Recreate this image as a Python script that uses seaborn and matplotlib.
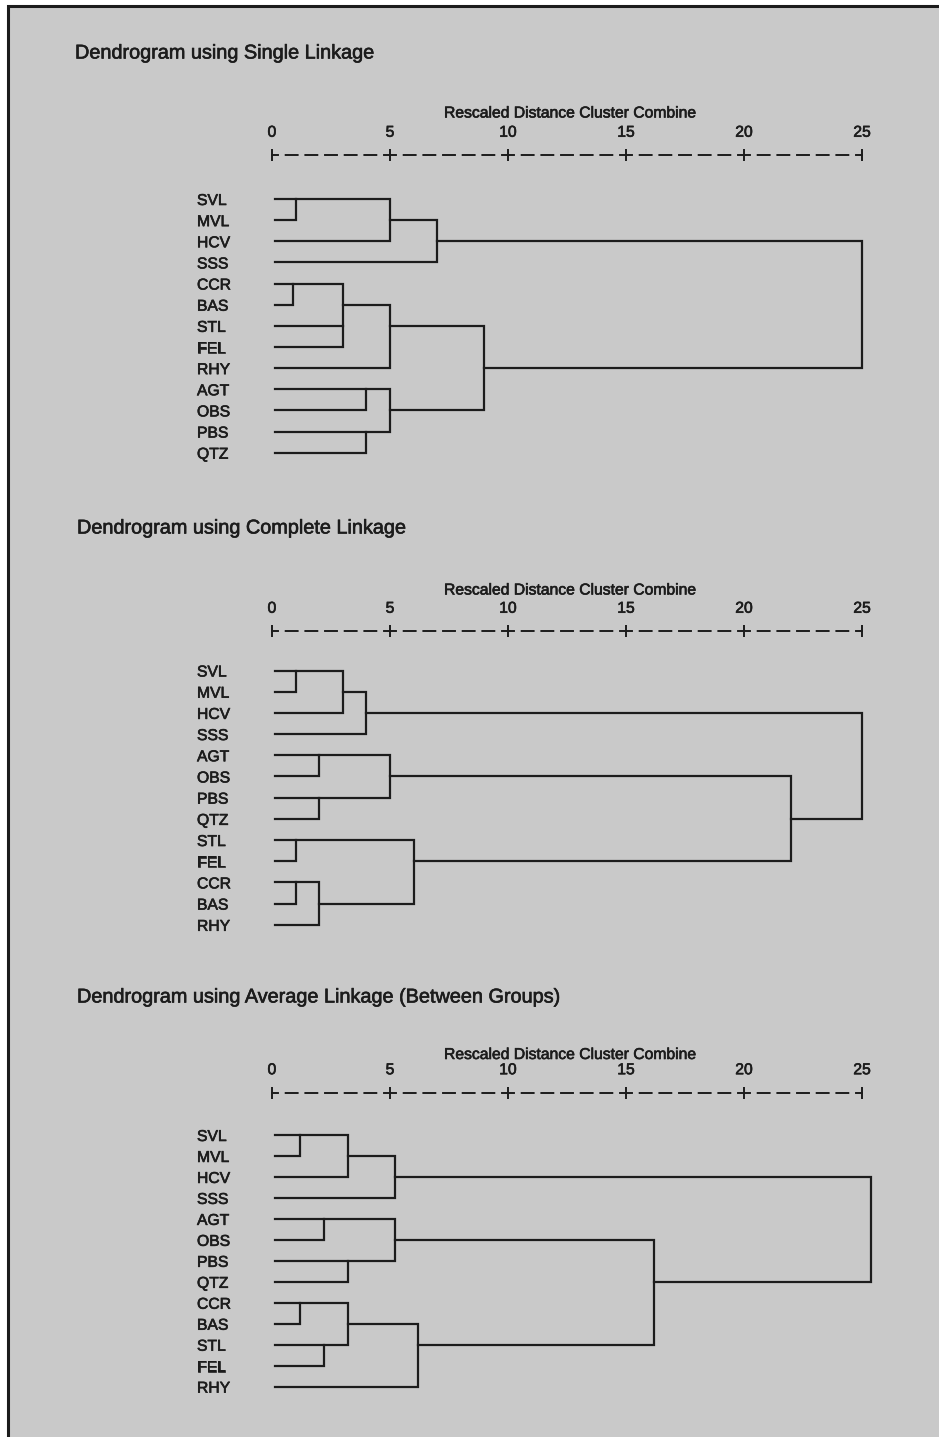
import numpy as np
import pandas as pd
import seaborn as sns
import matplotlib.pyplot as plt
import matplotlib.patheffects as pe
from matplotlib.patches import Rectangle

W, H = 939, 1437
BG = "#c9c9c9"
INK = "#1c1c1c"

# ---- data: leaf order and merges (a, b, rescaled distance) ----
# indices < 13 are leaves in display order, >= 13 are earlier merges
single_title = "Dendrogram using Single Linkage"
single_leaves = ["SVL", "MVL", "HCV", "SSS", "CCR", "BAS", "STL",
                 "FEL", "RHY", "AGT", "OBS", "PBS", "QTZ"]
single_merges = [(0, 1, 1.0), (4, 5, 0.9), (6, 7, 3.0), (14, 15, 3.0),
                 (9, 10, 4.0), (11, 12, 4.0), (13, 2, 5.0), (16, 8, 5.0),
                 (17, 18, 5.0), (19, 3, 7.0), (20, 21, 9.0), (22, 23, 25.0)]

complete_title = "Dendrogram using Complete Linkage"
complete_leaves = ["SVL", "MVL", "HCV", "SSS", "AGT", "OBS", "PBS",
                   "QTZ", "STL", "FEL", "CCR", "BAS", "RHY"]
complete_merges = [(0, 1, 1.0), (8, 9, 1.0), (10, 11, 1.0), (4, 5, 2.0),
                   (6, 7, 2.0), (15, 12, 2.0), (13, 2, 3.0), (19, 3, 4.0),
                   (16, 17, 5.0), (14, 18, 6.0), (21, 22, 22.0), (20, 23, 25.0)]

average_title = "Dendrogram using Average Linkage (Between Groups)"
average_leaves = ["SVL", "MVL", "HCV", "SSS", "AGT", "OBS", "PBS",
                  "QTZ", "CCR", "BAS", "STL", "FEL", "RHY"]
average_merges = [(0, 1, 1.2), (8, 9, 1.2), (4, 5, 2.2), (10, 11, 2.2),
                  (13, 2, 3.2), (6, 7, 3.2), (14, 16, 3.2), (17, 3, 5.2),
                  (15, 18, 5.2), (19, 12, 6.2), (21, 22, 16.2), (20, 23, 25.4)]

scale_ticks = [0, 5, 10, 15, 20, 25]
scale_label = "Rescaled Distance Cluster Combine"

sns.set_theme(style="white")
plt.rcParams["font.family"] = ["Liberation Sans", "DejaVu Sans"]
plt.rcParams["lines.scale_dashes"] = False
plt.rcParams["text.color"] = INK

# slightly heavier text, like the printed original
bold_ish = [pe.withStroke(linewidth=0.45, foreground=INK)]

fig = plt.figure(figsize=(W / 100, H / 100), dpi=100, facecolor="white")
fig.add_artist(Rectangle((8 / W, -0.1), 1.2, 1.1 - 6.5 / H,
                         transform=fig.transFigure, facecolor=BG,
                         edgecolor=INK, lw=2.2, zorder=0))

LEAF_START = 0.12


def panel(title, leaves, merges, title_xy, scale_y, row0_y, row_h, label_dy):
    n = len(leaves)
    rows_above = (row0_y - scale_y) / row_h
    bottom_y = row0_y + (n - 0.5) * row_h
    ax = fig.add_axes([272 / W, 1 - bottom_y / H, 590 / W, (bottom_y - scale_y) / H])
    ax.set_facecolor("none")

    pos = {i: (float(i), LEAF_START) for i in range(n)}
    recs = []
    for k, (a, b, d) in enumerate(merges):
        ra, xa = pos[a]
        rb, xb = pos[b]
        for x, y in [(xa, ra), (d, ra), (d, rb), (xb, rb)]:
            recs.append({"link": k, "x": x, "y": y})
        pos[n + k] = (np.floor((ra + rb) / 2), d)
    df = pd.DataFrame(recs)

    sns.lineplot(data=df, x="x", y="y", units="link", estimator=None,
                 sort=False, color=INK, lw=1.6, ax=ax, clip_on=False,
                 solid_capstyle="projecting", solid_joinstyle="miter")

    ax.set_xlim(0, 25)
    ax.set_ylim(n - 0.5, -rows_above)
    ax.set(xlabel="", ylabel="")

    ax.xaxis.tick_top()
    ax.set_xticks(scale_ticks)
    ax.set_xticklabels([str(t) for t in scale_ticks])
    ax.tick_params(axis="x", direction="inout", length=9, width=1.4,
                   color=INK, labelcolor=INK, labelsize=11.3, pad=6.5)
    ax.set_yticks(range(n))
    ax.set_yticklabels(leaves, ha="left")
    ax.tick_params(axis="y", length=0, pad=(272 - 197) * 0.72,
                   labelcolor=INK, labelsize=11.3)
    for lab in ax.get_xticklabels() + ax.get_yticklabels():
        lab.set_path_effects(bold_ish)

    for s in ["left", "right", "bottom"]:
        ax.spines[s].set_visible(False)
    top = ax.spines["top"]
    top.set_color(INK)
    top.set_linewidth(1.4)
    top.set_linestyle((4.3, (8.6, 5.56)))

    fig.text(title_xy[0] / W, 1 - title_xy[1] / H, title, fontsize=14.3,
             ha="left", va="center", color=INK, path_effects=bold_ish)
    fig.text(444 / W, 1 - (scale_y - label_dy) / H, scale_label,
             fontsize=11.3, ha="left", va="center", color=INK,
             path_effects=bold_ish)


panel(single_title, single_leaves, single_merges, (75, 53), 155, 199, 21.14, 42)
panel(complete_title, complete_leaves, complete_merges, (77, 528), 631, 670.5, 21.19, 41)
panel(average_title, average_leaves, average_merges, (77, 997), 1092.5, 1135, 20.97, 38)

fig.savefig("out.png", dpi=100, facecolor="white")
